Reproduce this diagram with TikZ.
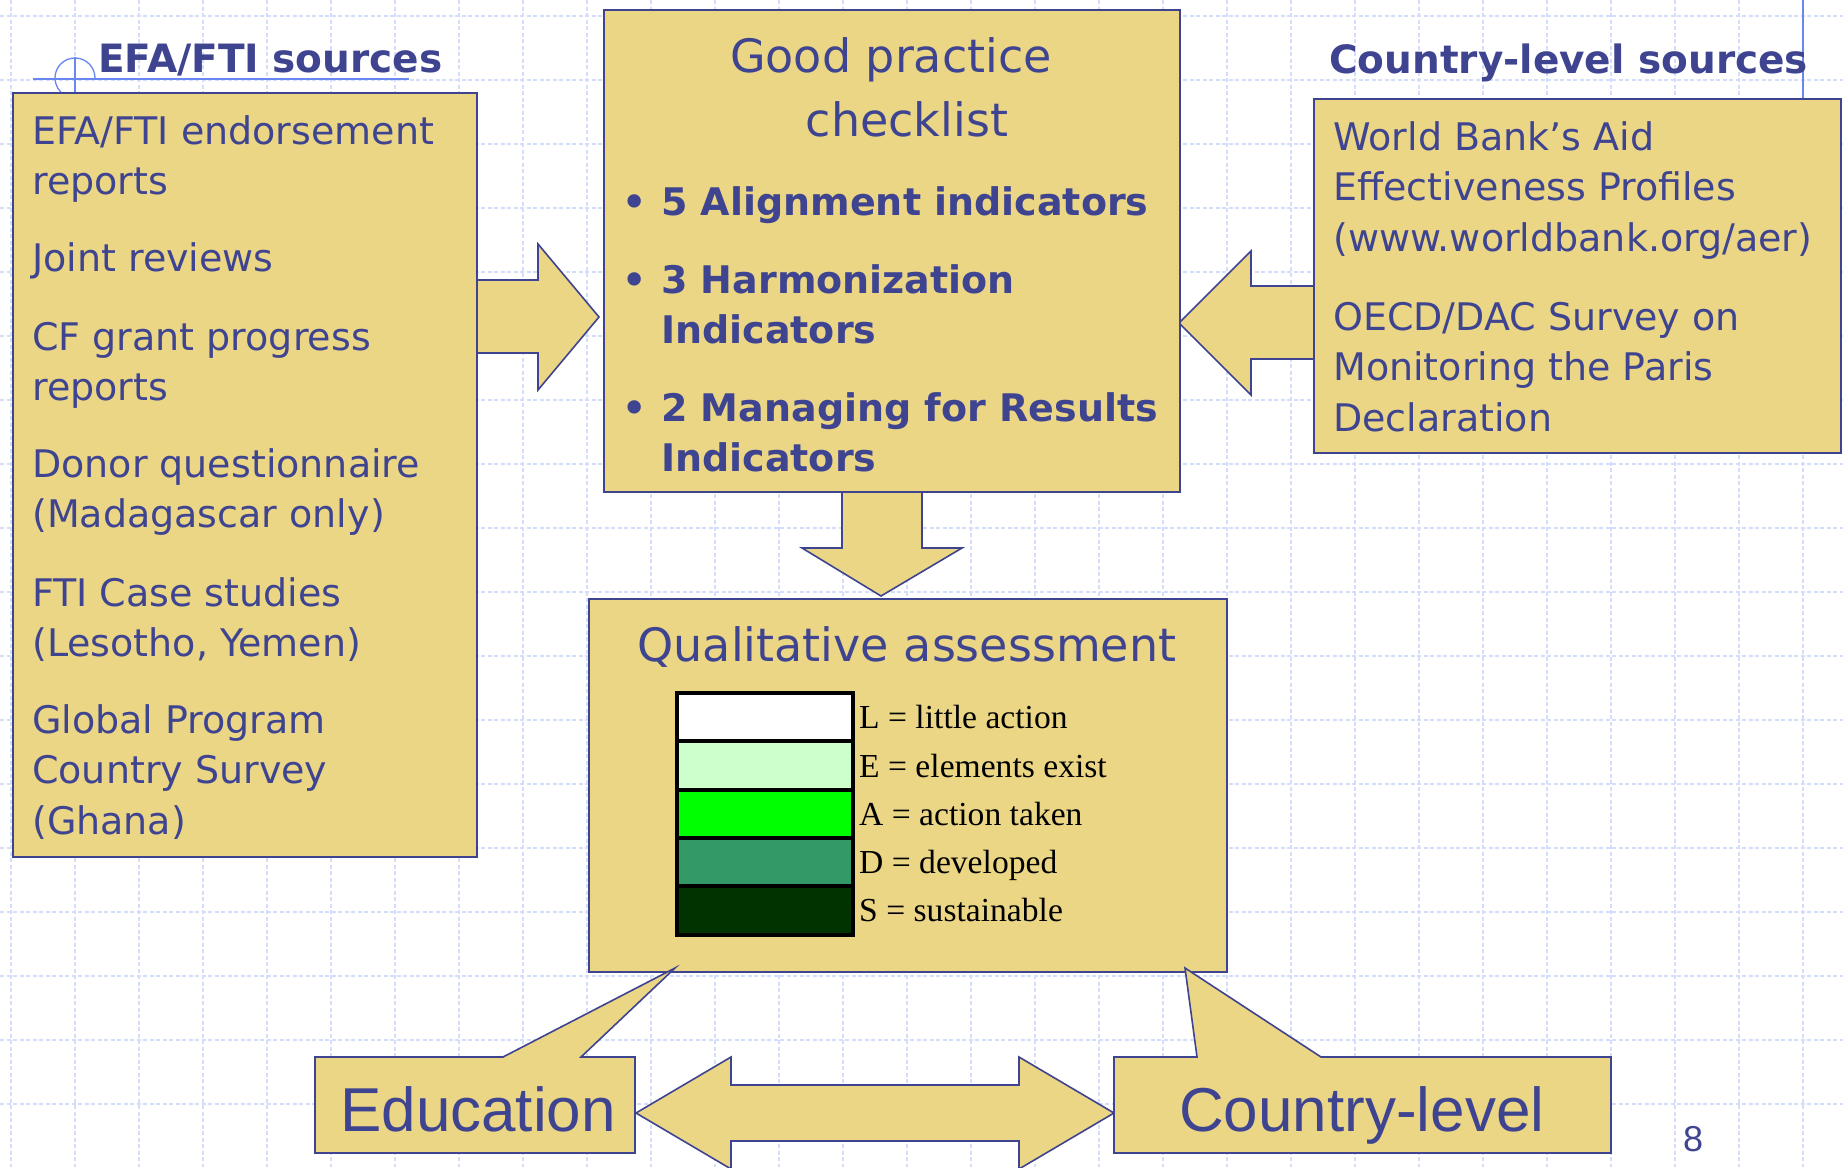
\documentclass[tikz,border=0pt]{standalone}
\usepackage{fontspec}
\setmainfont{DejaVu Sans}
\newfontfamily\arialfont{Liberation Sans}
\newfontfamily\romanfont{Liberation Serif}
\definecolor{slideblue}{RGB}{63,68,145}
\definecolor{panelfill}{RGB}{234,214,133}
\definecolor{gridline}{RGB}{212,222,252}
\definecolor{rulerblue}{RGB}{105,135,240}
\definecolor{levelE}{RGB}{204,255,204}
\definecolor{levelA}{RGB}{0,255,0}
\definecolor{levelD}{RGB}{51,153,102}
\definecolor{levelS}{RGB}{0,51,0}
\newcommand{\srclines}[1]{\begin{tabular}[t]{@{}l@{}}#1\end{tabular}}
\tikzset{
  panel/.style={draw=slideblue, fill=panelfill, line width=1.6pt, inner sep=0pt, anchor=north west},
  blockarrow/.style={draw=slideblue, fill=panelfill, line width=1.6pt, line join=miter},
  srctext/.style={anchor=base west, inner sep=0pt, text=slideblue, font=\fontsize{38}{50.5}\selectfont},
  headtext/.style={anchor=base west, inner sep=0pt, text=slideblue, font=\fontsize{39}{46}\selectfont\bfseries},
  bullettext/.style={anchor=base west, inner sep=0pt, text=slideblue, font=\fontsize{38}{50}\selectfont\bfseries},
  levelcell/.style={draw=black, line width=4pt, minimum width=176pt, minimum height=48.4pt, inner sep=0pt},
  leveltext/.style={anchor=base west, inner sep=0pt, font=\romanfont\fontsize{33.6}{40}\selectfont},
  calloutlabel/.style={anchor=base west, inner sep=0pt, text=slideblue, font=\arialfont\fontsize{62}{70}\selectfont},
}
\begin{document}
\begin{tikzpicture}[x=1pt, y=-1pt]
      \useasboundingbox[fill=white] (0,0) rectangle (1843,1167);
      \foreach \gx in {11,75,...,1803}
        \draw[gridline, line width=1.3pt, dash pattern=on 4pt off 2.5pt] (\gx,0) -- (\gx,1167);
      \foreach \gy in {16,80,...,1104}
        \draw[gridline, line width=1.3pt, dash pattern=on 4pt off 2.5pt] (0,\gy) -- (1843,\gy);
      \draw[rulerblue, line width=1.3pt] (33,79) -- (409,79);
      \draw[rulerblue, line width=1.3pt] (95,78) arc[start angle=0, end angle=-240, radius=20];
      \draw[rulerblue, line width=1.3pt] (75,57) -- (75,92);
      \draw[rulerblue, line width=1.3pt] (1803,0) -- (1803,98);

      \filldraw[blockarrow] (470,280) -- (538,280) -- (538,244) -- (599,317) -- (538,390) -- (538,353) -- (470,353);
      \filldraw[blockarrow] (1318,286) -- (1251,286) -- (1251,251) -- (1179,323) -- (1251,395) -- (1251,359) -- (1318,359);
      \filldraw[blockarrow] (842,485) -- (842,548) -- (802,548) -- (881,596) -- (962,548) -- (922,548) -- (922,485);

      \node[panel, minimum width=464pt, minimum height=764pt] (efabox) at (12,92) {};
      \node[panel, minimum width=576pt, minimum height=482pt] (checkbox) at (603,9) {};
      \node[panel, minimum width=527pt, minimum height=354pt] (wbbox) at (1313,98) {};
      \node[panel, minimum width=638pt, minimum height=373pt] (qualbox) at (588,598) {};

      \filldraw[blockarrow] (636,1113) -- (731,1057) -- (731,1085) -- (1019,1085) -- (1019,1057) -- (1114,1113)
        -- (1019,1169) -- (1019,1141) -- (731,1141) -- (731,1169) -- cycle;
      \filldraw[blockarrow] (315,1057) -- (503,1057) -- (675,968) -- (581,1057) -- (635,1057) -- (635,1153) -- (315,1153) -- cycle;
      \filldraw[blockarrow] (1114,1057) -- (1197,1057) -- (1185,968) -- (1321,1057) -- (1611,1057) -- (1611,1153) -- (1114,1153) -- cycle;

      \node[headtext] (efahead) at (98,72) {EFA/FTI sources};
      \node[headtext] (wbhead) at (1329,73) {Country-level sources};

      \node[srctext] (endorse) at (32,144) {\srclines{EFA/FTI endorsement\\reports}};
      \node[srctext] (joint) at (32,271) {Joint reviews};
      \node[srctext] (cfgrant) at (32,350) {\srclines{CF grant progress\\reports}};
      \node[srctext] (donor) at (32,477) {\srclines{Donor questionnaire\\(Madagascar only)}};
      \node[srctext] (cases) at (32,606) {\srclines{FTI Case studies\\(Lesotho, Yemen)}};
      \node[srctext] (global) at (32,733) {\srclines{Global Program\\Country Survey\\(Ghana)}};

      \node[srctext] (aidprof) at (1333,150) {\srclines{World Bank’s Aid\\Effectiveness Profiles\\(www.worldbank.org/aer)}};
      \node[srctext] (oecd) at (1333,330) {\srclines{OECD/DAC Survey on\\Monitoring the Paris\\Declaration}};

      \node[anchor=base, inner sep=0pt, text=slideblue, font=\fontsize{46}{64}\selectfont] (goodhead) at (891,72) {Good practice};
      \node[anchor=base, inner sep=0pt, text=slideblue, font=\fontsize{46}{64}\selectfont] (goodhead2) at (907,136) {checklist};
      \node[bullettext] (dot1) at (622,215) {•};
      \node[bullettext] (align) at (661,215) {5 Alignment indicators};
      \node[bullettext] (dot2) at (622,293) {•};
      \node[bullettext] (harmon) at (661,293) {\srclines{3 Harmonization\\Indicators}};
      \node[bullettext] (dot3) at (622,421) {•};
      \node[bullettext] (results) at (661,421) {\srclines{2 Managing for Results\\Indicators}};

      \node[anchor=base, inner sep=0pt, text=slideblue, font=\fontsize{46}{56}\selectfont] (qualhead) at (907,661) {Qualitative assessment};
      \node[levelcell, fill=white] (cellL) at (765,717) {};
      \node[levelcell, fill=levelE] (cellE) at (765,765.4) {};
      \node[levelcell, fill=levelA] (cellA) at (765,813.8) {};
      \node[levelcell, fill=levelD] (cellD) at (765,862.2) {};
      \node[levelcell, fill=levelS] (cellS) at (765,910.6) {};
      \node[leveltext] (textL) at (859,728) {L = little action};
      \node[leveltext] (textE) at (859,777) {E = elements exist};
      \node[leveltext] (textA) at (859,825) {A = action taken};
      \node[leveltext] (textD) at (859,873) {D = developed};
      \node[leveltext] (textS) at (859,921) {S = sustainable};

      \node[calloutlabel] (educ) at (340,1131) {Education};
      \node[calloutlabel] (country) at (1179,1131) {Country-level};
      \node[anchor=base, inner sep=0pt, text=slideblue, font=\arialfont\fontsize{36}{40}\selectfont] (pagenum) at (1693,1151) {8};
    \end{tikzpicture}
\end{document}
